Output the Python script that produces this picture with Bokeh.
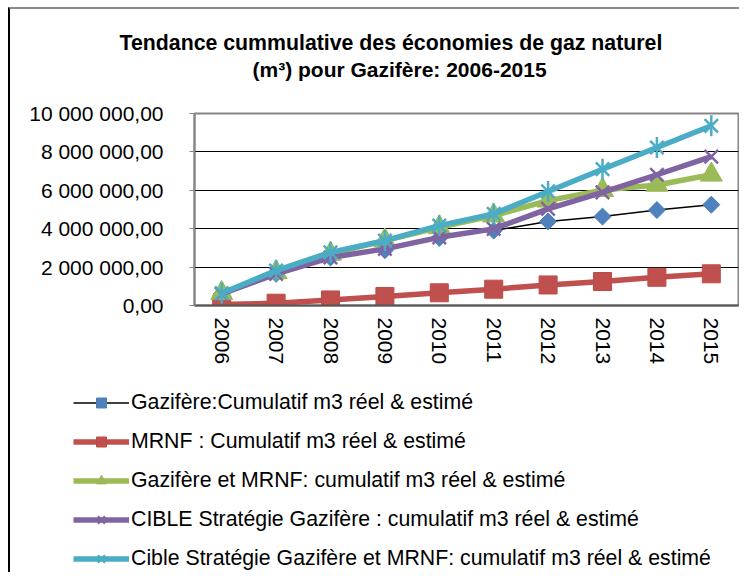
import math
from bokeh.plotting import figure
from bokeh.layouts import column, row
from bokeh.models import (FactorRange, Range1d, FixedTicker, Title, Legend, LegendItem, Spacer)
from bokeh.embed import file_html
from bokeh.resources import INLINE

years = ["2006", "2007", "2008", "2009", "2010", "2011", "2012", "2013", "2014", "2015"]
gazifere = [600000, 1650000, 2500000, 2880000, 3520000, 3900000, 4380000, 4630000, 4970000, 5250000]
mrnf = [50000, 120000, 290000, 470000, 660000, 850000, 1070000, 1250000, 1470000, 1650000]
gaz_mrnf = [640000, 1730000, 2690000, 3380000, 4070000, 4680000, 5460000, 6010000, 6280000, 6810000]
cible_gaz = [600000, 1650000, 2500000, 2950000, 3550000, 3990000, 5030000, 5890000, 6810000, 7750000]
cible_gaz_mrnf = [640000, 1820000, 2770000, 3380000, 4160000, 4770000, 5940000, 7100000, 8230000, 9360000]

y_ticks = [0, 2000000, 4000000, 6000000, 8000000, 10000000]
y_tick_labels = ["0,00", "2 000 000,00", "4 000 000,00", "6 000 000,00", "8 000 000,00", "10 000 000,00"]

series_names = [
    "Gazifère:Cumulatif m3 réel & estimé",
    "MRNF : Cumulatif m3 réel & estimé",
    "Gazifère et MRNF: cumulatif m3 réel & estimé",
    "CIBLE Stratégie Gazifère : cumulatif m3 réel & estimé",
    "Cible Stratégie Gazifère et MRNF: cumulatif m3 réel & estimé",
]
series_values = [gazifere, mrnf, gaz_mrnf, cible_gaz, cible_gaz_mrnf]
title_lines = ["Tendance cummulative des économies de gaz naturel", "(m³) pour Gazifère: 2006-2015"]

FONT = "Liberation Sans"

# per series: line colour/width and a list of markers (marker, size, fill, line colour, line width, angle)
styles = [
    dict(lc="#000000", lw=1.5, markers=[("square", 12, "#4F81BD", "#4A7EBB", 1, math.pi / 4)]),
    dict(lc="#C0504D", lw=5.5, markers=[("square", 18, "#C0504D", "#BE4B48", 1, 0)]),
    dict(lc="#9BBB59", lw=5.5, markers=[("triangle", 22, "#9BBB59", "#98B954", 1, 0)]),
    dict(lc="#8064A2", lw=5.5, markers=[("x", 19, None, "#8064A2", 2.5, 0)]),
    dict(lc="#4BACC6", lw=5.5, markers=[("x", 19, None, "#4BACC6", 2.5, 0),
                                        ("dash", 21, None, "#4BACC6", 2.5, math.pi / 2)]),
]

W = 729
H1, H2 = 362, 201
FL, FR, FT, FB = 184, 728, 104, 296

p = figure(width=W, height=H1, x_range=FactorRange(*years), y_range=Range1d(0, 10000000),
           output_backend="svg", toolbar_location=None, title=None,
           min_border_left=FL, min_border_right=W - FR, min_border_top=FT, min_border_bottom=H1 - FB)
p.frame_align = False
p.background_fill_color = "white"
p.border_fill_color = "white"
p.outline_line_color = "#868686"
p.outline_line_width = 2

p.xgrid.grid_line_color = None
p.ygrid.grid_line_color = "#000000"
p.ygrid.grid_line_width = 1
p.yaxis.ticker = FixedTicker(ticks=y_ticks)
p.yaxis.major_label_overrides = {t: l for t, l in zip(y_ticks, y_tick_labels)}
p.yaxis.axis_line_color = "#868686"
p.yaxis.axis_line_width = 2
p.yaxis.major_tick_line_color = "#868686"
p.yaxis.major_tick_out = 5
p.yaxis.major_tick_in = 0
p.yaxis.minor_tick_line_color = None
p.yaxis.major_label_standoff = 26
p.yaxis.major_label_text_font = FONT
p.yaxis.major_label_text_font_size = "21px"
p.yaxis.major_label_text_color = "#000000"

p.xaxis.axis_line_color = "#555555"
p.xaxis.axis_line_width = 2
p.xaxis.major_tick_line_color = None
p.xaxis.major_tick_out = 0
p.xaxis.major_tick_in = 0
p.xaxis.major_label_orientation = -math.pi / 2
p.xaxis.major_label_standoff = 12
p.xaxis.major_label_text_font = FONT
p.xaxis.major_label_text_font_size = "21px"
p.xaxis.major_label_text_color = "#000000"

for vals, st in zip(series_values, styles):
    p.line(years, vals, line_color=st["lc"], line_width=st["lw"])
    for mk, sz, fc, mlc, mlw, ang in st["markers"]:
        p.scatter(years, vals, marker=mk, angle=ang, size=sz,
                  fill_color=fc, line_color=mlc, line_width=mlw)

# title: spacer closest to the frame, then line 2, then line 1
p.add_layout(Title(text=" ", standoff=7, text_font=FONT, text_font_size="21px"), "above")
p.add_layout(Title(text=title_lines[1], align="left", offset=58, standoff=1,
                   text_font=FONT, text_font_style="bold", text_font_size="21px",
                   text_color="#000000"), "above")
p.add_layout(Title(text=title_lines[0], align="left", offset=-75, standoff=1,
                   text_font=FONT, text_font_style="bold", text_font_size="21.3px",
                   text_color="#000000"), "above")

# legend panel below the chart (its series lie outside its own range, only the legend shows)
p2 = figure(width=W, height=H2, x_range=FactorRange(*years), y_range=Range1d(-2e7, -1e7),
            output_backend="svg", toolbar_location=None, title=None, min_border=0,
            x_axis_location=None, y_axis_location=None)
p2.frame_align = False
p2.grid.visible = False
p2.outline_line_color = None
p2.background_fill_color = "white"
p2.border_fill_color = "white"

items = []
for name, vals, st in zip(series_names, series_values, styles):
    rends = [p2.line(years, vals, line_color=st["lc"], line_width=st["lw"])]
    for mk, sz, fc, mlc, mlw, ang in st["markers"]:
        rends.append(p2.scatter(years, vals, marker=mk, angle=ang, size=sz,
                                fill_color=fc, line_color=mlc, line_width=mlw))
    items.append(LegendItem(label=name, renderers=rends))

legend = Legend(items=items, location=(63, 1), orientation="vertical",
                glyph_width=56, glyph_height=25, label_height=25, spacing=14,
                label_standoff=2, padding=0, margin=0,
                border_line_color=None, background_fill_alpha=0,
                label_text_font=FONT, label_text_font_size="21.3px", label_text_color="#000000")
p2.add_layout(legend, "center")

inner = column(p, p2, spacing=0)
inner.styles = {"border-left": "2px solid #000000", "border-top": "2px solid #8a8a8a"}
layout = column(Spacer(height=7), row(Spacer(width=8), inner, spacing=0), spacing=0)

open("out.html", "w").write(file_html(layout, INLINE))
